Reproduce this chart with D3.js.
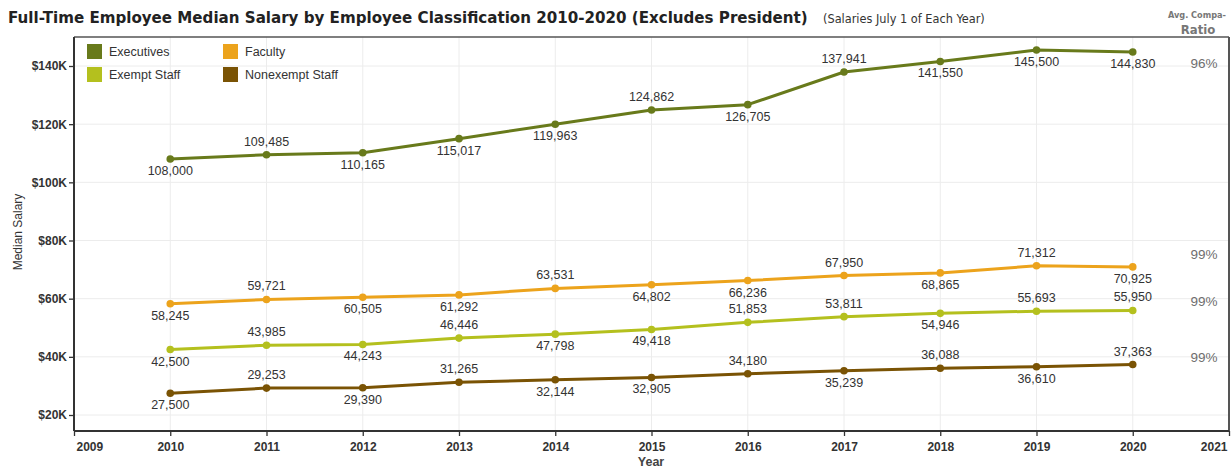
<!DOCTYPE html>
<html><head><meta charset="utf-8">
<script src="https://cdn.jsdelivr.net/npm/d3@7"></script>
<style>body{margin:0;background:#fff}svg{display:block}</style>
</head><body><svg id="c" width="1232" height="469"></svg>
<script>
const years = [2010,2011,2012,2013,2014,2015,2016,2017,2018,2019,2020];
const seriesNames = ["Executives","Faculty","Exempt Staff","Nonexempt Staff"];
const executives = [108000,109485,110165,115017,119963,124862,126705,137941,141550,145500,144830];
const faculty = [58245,59721,60505,61292,63531,64802,66236,67950,68865,71312,70925];
const exemptStaff = [42500,43985,44243,46446,47798,49418,51853,53811,54946,55693,55950];
const nonexemptStaff = [27500,29253,29390,31265,32144,32905,34180,35239,36088,36610,37363];
const labelSides = {
  "Executives":     ["b","a","b","b","b","a","b","a","b","b","b"],
  "Faculty":        ["b","a","b","b","a","b","b","a","b","a","b"],
  "Exempt Staff":   ["b","a","b","a","b","b","a","a","b","a","a"],
  "Nonexempt Staff":["b","a","b","a","b","b","a","b","a","b","a"]
};
const compaRatio = ["96%","99%","99%","99%"];
const yTicks = [20000,40000,60000,80000,100000,120000,140000];
const xTicks = [2009,2010,2011,2012,2013,2014,2015,2016,2017,2018,2019,2020,2021];
const colors = {"Executives":"#687a1b","Faculty":"#eca31c","Exempt Staff":"#b4c01e","Nonexempt Staff":"#7a5304"};
const values = {"Executives":executives,"Faculty":faculty,"Exempt Staff":exemptStaff,"Nonexempt Staff":nonexemptStaff};

const svg = d3.select("#c");
const L=74, R=1229, T=37, B=431;
const x = d3.scaleLinear().domain([2009,2021]).range([L,R]);
const y = d3.scaleLinear().domain([20000,140000]).range([415,66]);
const font = "'Liberation Sans', Arial, sans-serif";

function fitWidth(sel, base, target){
  const w = sel.node().getComputedTextLength();
  sel.attr("font-size", base*target/w);
}

// grid
svg.append("g").selectAll("line").data(xTicks.slice(1,-1)).join("line")
  .attr("x1",d=>x(d)).attr("x2",d=>x(d)).attr("y1",T).attr("y2",B)
  .attr("stroke","#ececec").attr("stroke-width",1);
svg.append("g").selectAll("line").data(yTicks).join("line")
  .attr("x1",L).attr("x2",R).attr("y1",d=>y(d)).attr("y2",d=>y(d))
  .attr("stroke","#ececec").attr("stroke-width",1);

// frame
svg.append("line").attr("x1",L).attr("x2",R).attr("y1",T).attr("y2",T).attr("stroke","#555").attr("stroke-width",1.5);
svg.append("line").attr("x1",R).attr("x2",R).attr("y1",T).attr("y2",B).attr("stroke","#555").attr("stroke-width",2);

// axes
const xAxis = svg.append("g").attr("transform",`translate(0,${B})`)
  .call(d3.axisBottom(x).tickValues(xTicks).tickFormat(d3.format("d")).tickSizeOuter(0).tickSize(5).tickPadding(6));
const yAxis = svg.append("g").attr("transform",`translate(${L},0)`)
  .call(d3.axisLeft(y).tickValues(yTicks).tickFormat(d=>"$"+(d/1000)+"K").tickSizeOuter(0).tickSize(5).tickPadding(2));
[xAxis,yAxis].forEach(a=>{
  a.select(".domain").remove();
  a.selectAll(".tick line").attr("stroke","#333").attr("stroke-width",1.3);
  a.selectAll("text").attr("font-family",font).attr("font-size",12).attr("font-weight","bold").attr("fill","#333");
});
xAxis.selectAll(".tick text").filter(d=>d===2009).attr("text-anchor","start").attr("dx",2);
xAxis.selectAll(".tick text").filter(d=>d===2021).attr("text-anchor","end").attr("dx",-2);
svg.append("line").attr("x1",L).attr("x2",L).attr("y1",T).attr("y2",B).attr("stroke","#333").attr("stroke-width",2);
svg.append("line").attr("x1",L).attr("x2",R).attr("y1",B).attr("y2",B).attr("stroke","#333").attr("stroke-width",2);

// lines
const line = d3.line().x((d,i)=>x(years[i])).y(d=>y(d));
seriesNames.forEach((name,si)=>{
  const vals = values[name];
  const g = svg.append("g");
  g.append("path").datum(vals).attr("d",line).attr("fill","none")
    .attr("stroke",colors[name]).attr("stroke-width",3).attr("stroke-linejoin","round");
  g.selectAll("circle").data(vals).join("circle")
    .attr("cx",(d,i)=>x(years[i])).attr("cy",d=>y(d)).attr("r",3.8).attr("fill",colors[name]);
  g.selectAll("text").data(vals).join("text")
    .attr("x",(d,i)=>x(years[i])).attr("y",(d,i)=>y(d)+(labelSides[name][i]==="a"?-9:16))
    .attr("text-anchor","middle").attr("font-family",font).attr("font-size",12.5)
    .attr("fill","#333").text(d=>d3.format(",")(d));
});

// compa ratios
const compaOffsets = [12,-11,-8,-6];
seriesNames.forEach((name,si)=>{
  const last = values[name][values[name].length-1];
  svg.append("text").attr("x",1204).attr("y",y(last)+compaOffsets[si])
    .attr("text-anchor","middle").attr("dominant-baseline","middle")
    .attr("font-family",font).attr("font-size",13.5).attr("fill","#6e6e6e").text(compaRatio[si]);
});

// legend
const legPos = [[87,44],[223,44],[87,67],[223,67]];
seriesNames.forEach((name,i)=>{
  const [lx,ly]=legPos[i];
  svg.append("rect").attr("x",lx).attr("y",ly).attr("width",15).attr("height",15).attr("fill",colors[name]);
  svg.append("text").attr("x",lx+22).attr("y",ly+12).attr("font-family",font).attr("font-size",12.5)
    .attr("fill","#333").text(name);
});

// titles
const title = svg.append("text").attr("x",8).attr("y",23)
  .attr("font-family","'DejaVu Sans', Verdana, sans-serif").attr("font-weight","bold").attr("font-size",16)
  .attr("fill","#222").text("Full-Time Employee Median Salary by Employee Classification 2010-2020 (Excludes President)");
fitWidth(title,16,800);
const sub = svg.append("text").attr("x",823).attr("y",23)
  .attr("font-family","'DejaVu Sans Condensed','DejaVu Sans', sans-serif").attr("font-size",11)
  .attr("fill","#333").text("(Salaries July 1 of Each Year)");
fitWidth(sub,11,162);
const narrow = "'Liberation Sans Narrow','DejaVu Sans Condensed', sans-serif";
const h1 = svg.append("text").attr("x",1197).attr("y",18).attr("text-anchor","middle").attr("font-family",narrow)
  .attr("font-weight","bold").attr("font-size",13).attr("fill","#777").text("Avg. Compa-");
if (h1.node().getComputedTextLength() > 58) fitWidth(h1,13,58);
svg.append("text").attr("x",1198).attr("y",34).attr("text-anchor","middle").attr("font-family",narrow)
  .attr("font-weight","bold").attr("font-size",13).attr("fill","#777").text("Ratio");
svg.append("text").attr("transform","translate(22,232) rotate(-90)").attr("text-anchor","middle")
  .attr("font-family",font).attr("font-size",12).attr("fill","#333").text("Median Salary");
svg.append("text").attr("x",651).attr("y",466).attr("text-anchor","middle")
  .attr("font-family",font).attr("font-size",12.5).attr("font-weight","bold").attr("fill","#444").text("Year");
</script></body></html>
